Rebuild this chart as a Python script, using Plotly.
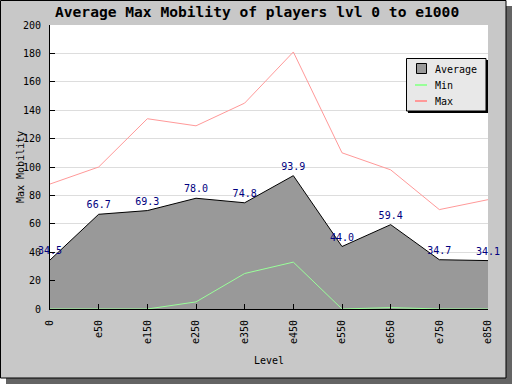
import plotly.graph_objects as go

levels = ["0", "e50", "e150", "e250", "e350", "e450", "e550", "e650", "e750", "e850"]
avg_vals = [34.5, 66.7, 69.3, 78.0, 74.8, 93.9, 44.0, 59.4, 34.7, 34.1]
min_vals = [0, 0, 0, 5, 25, 33, 0, 1, 0, 0]
max_vals = [88, 100, 134, 129, 145, 181, 110, 98, 70, 77]
avg_labels = ["%.1f" % v for v in avg_vals]
series_names = ["Average", "Min", "Max"]
series_colors = ["#999999", "#99ff99", "#ff9999"]

W, H = 512, 384
L, R, T, B = 50, 488, 25, 309
pw, ph = R - L, B - T

def px(x):
    return (x - L) / pw

def py(y):
    return (B - y) / ph

MONO = "DejaVu Sans Mono"

fig = go.Figure()
fig.add_trace(go.Scatter(
    x=levels, y=avg_vals, name=series_names[0], mode="lines+markers+text",
    fill="tozeroy", fillcolor=series_colors[0],
    line=dict(color="black", width=1),
    marker=dict(size=4, opacity=0),
    text=avg_labels, textposition="top center",
    textfont=dict(family=MONO, size=10, color="#000080"),
    cliponaxis=False, showlegend=False,
))
fig.add_trace(go.Scatter(
    x=levels, y=min_vals, name=series_names[1], mode="lines",
    line=dict(color=series_colors[1], width=1), showlegend=False,
))
fig.add_trace(go.Scatter(
    x=levels, y=max_vals, name=series_names[2], mode="lines",
    line=dict(color=series_colors[2], width=1), showlegend=False,
))

def prect(x0, y0, x1, y1, fill, line=None, layer="below"):
    return dict(type="rect", xref="paper", yref="paper", layer=layer,
                x0=px(x0), x1=px(x1), y0=py(y1), y1=py(y0),
                fillcolor=fill, line=line or dict(width=0))

shapes = [
    prect(6, 6, 512, 384, "#646464"),
    prect(0.5, 0.5, 506, 378, "#c8c8c8", dict(color="black", width=1)),
    prect(L, T, R, B, "white"),
    # custom legend (drawn above traces)
    prect(408, 60, 488, 113, "black", layer="above"),
    prect(406.5, 58.5, 486, 111, "#e8e8e8", dict(color="black", width=1), layer="above"),
    prect(416.5, 63.5, 426.5, 73.5, series_colors[0], dict(color="black", width=1), layer="above"),
    dict(type="line", xref="paper", yref="paper", layer="above",
         x0=px(415), x1=px(427), y0=py(85), y1=py(85),
         line=dict(color=series_colors[1], width=2)),
    dict(type="line", xref="paper", yref="paper", layer="above",
         x0=px(415), x1=px(427), y0=py(101), y1=py(101),
         line=dict(color=series_colors[2], width=2)),
]

annotations = [
    dict(text="<b>Average Max Mobility of players lvl 0 to e1000</b>",
         xref="paper", yref="paper", x=px(256.5), y=py(12),
         xanchor="center", yanchor="middle", showarrow=False,
         font=dict(family=MONO, size=14.6, color="black")),
    dict(text="Level", xref="paper", yref="paper", x=px(269), y=py(360),
         xanchor="center", yanchor="middle", showarrow=False,
         font=dict(family=MONO, size=10, color="black")),
    dict(text="Max Mobility", xref="paper", yref="paper", x=px(20), y=py(167),
         xanchor="center", yanchor="middle", showarrow=False, textangle=-90,
         font=dict(family=MONO, size=10, color="black")),
]
for name, yc in zip(series_names, [69, 85, 101]):
    annotations.append(dict(text=name, xref="paper", yref="paper",
                            x=px(433), y=py(yc), xanchor="left", yanchor="middle",
                            showarrow=False,
                            font=dict(family=MONO, size=10, color="black")))

fig.update_layout(
    width=W, height=H,
    margin=dict(l=L, r=W - R, t=T, b=H - B, pad=0),
    paper_bgcolor="white", plot_bgcolor="white",
    shapes=shapes, annotations=annotations,
    showlegend=False,
    xaxis=dict(type="category", range=[0, 9], showgrid=False,
               showline=True, linecolor="black", linewidth=1,
               ticks="inside", ticklen=5, tickcolor="black",
               tickangle=-90, ticklabelstandoff=6,
               tickfont=dict(family=MONO, size=10, color="black"),
               zeroline=False, fixedrange=True),
    yaxis=dict(range=[0, 200], dtick=20, showgrid=True, gridcolor="#dddddd",
               showline=True, linecolor="black", linewidth=1,
               ticks="inside", ticklen=5, tickcolor="black",
               ticklabelstandoff=6,
               tickfont=dict(family=MONO, size=10, color="black"),
               zeroline=False, fixedrange=True),
)

fig.write_html("out.html", config={"displayModeBar": False},
               post_script="document.body.style.margin='0';document.body.style.overflow='hidden';")
